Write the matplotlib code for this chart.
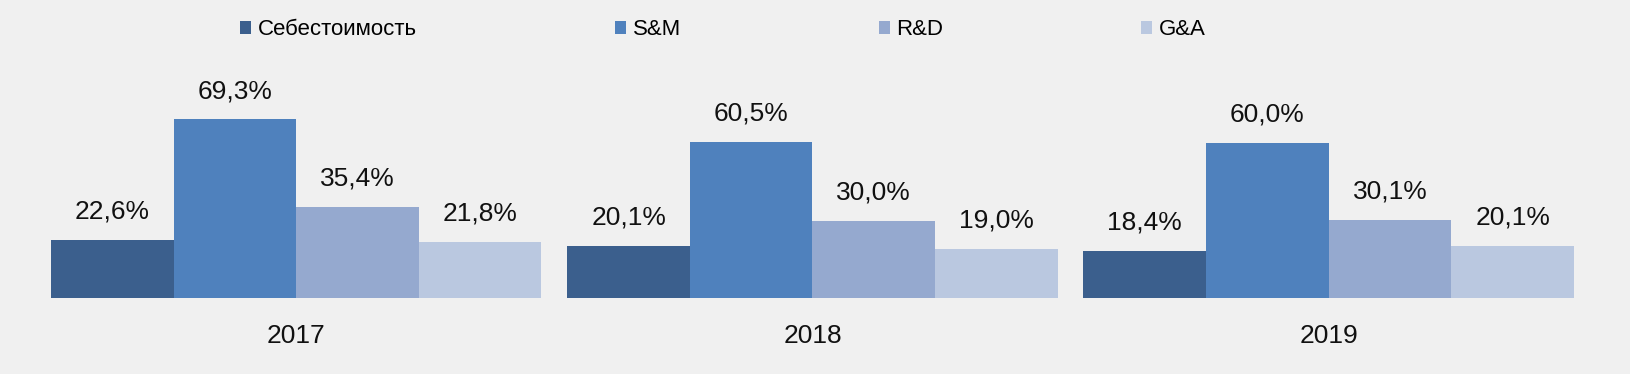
import matplotlib.pyplot as plt
import numpy as np

plt.rcParams['font.family'] = ['Liberation Sans', 'DejaVu Sans']

years = ['2017', '2018', '2019']
series = ['Себестоимость', 'S&M', 'R&D', 'G&A']
cost = [22.6, 20.1, 18.4]
sm = [69.3, 60.5, 60.0]
rd = [35.4, 30.0, 30.1]
ga = [21.8, 19.0, 20.1]
colors = ['#3B5F8D', '#4F81BD', '#95A9CF', '#BAC8E0']

values = [cost, sm, rd, ga]
bg = '#F0F0F0'

fig = plt.figure(figsize=(16.3, 3.74), dpi=100, facecolor=bg)
ax = fig.add_axes([0.0313, 0.2032, 0.9343, 0.6888], facecolor=bg)

x = np.arange(len(years))
w = 0.2375
for i, (name, vals) in enumerate(zip(series, values)):
    pos = x + (i - 1.5) * w
    bars = ax.bar(pos, vals, w, color=colors[i], label=name, linewidth=0)
    for b, v in zip(bars, vals):
        ax.annotate(('%.1f%%' % v).replace('.', ','),
                    (b.get_x() + b.get_width() / 2, v),
                    xytext=(0, 20.5), textcoords='offset points',
                    ha='center', va='center', fontsize=19, color='#111111')

ax.set_xlim(-0.475, 2.475)
ax.set_ylim(0, 100)
ax.set_xticks(x)
ax.set_xticklabels(years, fontsize=19, color='#111111')
ax.tick_params(axis='x', length=0, pad=18.5)
ax.set_yticks([])
for s in ax.spines.values():
    s.set_visible(False)

fig.legend(loc='center', bbox_to_anchor=(0.4436, 0.92), ncol=4, frameon=False,
           fontsize=16, handlelength=0.5, handleheight=0.5, handletextpad=0.3,
           columnspacing=8.9)

plt.savefig('out.png', dpi=100, facecolor=bg)
